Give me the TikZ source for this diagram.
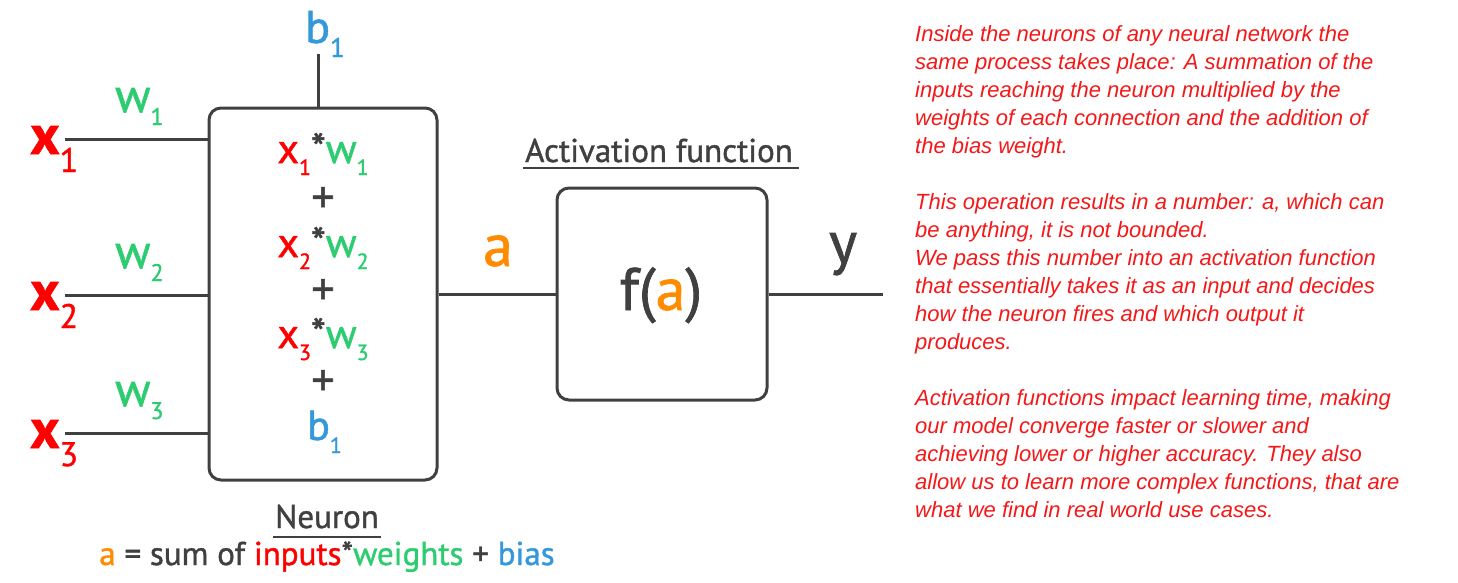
\documentclass[tikz,border=0pt]{standalone}
\usepackage{fontspec}
\setmainfont{PT Sans}[RawFeature={embolden=1.2}]
\newfontfamily\notefont{Liberation Sans}
\usetikzlibrary{positioning}
\definecolor{ink}{HTML}{404040}
\definecolor{xred}{HTML}{FF0000}
\definecolor{wgreen}{HTML}{2ECC71}
\definecolor{bblue}{HTML}{3498DB}
\definecolor{aorange}{HTML}{FF8C00}
\definecolor{notered}{HTML}{F41818}
\newcommand{\fs}[1]{\fontsize{#1}{#1}\selectfont}
\newcommand{\lowidx}[3]{\raisebox{-#1pt}{\mdseries\fs{#2}#3}}
\begin{document}
\begin{tikzpicture}[x=1pt,y=-1pt,
  every node/.style={text=ink},
  wire/.style={draw=ink,line width=3pt},
  unitbox/.style={draw=ink,line width=3pt,rounded corners=12pt},
  lbl/.style={inner sep=0pt,anchor=base west},
  term/.style={inner sep=0pt,anchor=base}]
  \useasboundingbox (0,0) rectangle (1458,582);
  % boxes
  \node[unitbox,minimum width=228pt,minimum height=372pt] (neuron) at (323,294) {};
  \node[unitbox,minimum width=210pt,minimum height=212pt] (act) at (662,294) {};
  % inputs and weights
  \foreach \i/\yy in {1/139,2/295,3/433} {
    \coordinate (in\i) at (65,\yy);
    \draw[wire] (in\i) -- (in\i -| neuron.west);
    \node[lbl] (xlab\i) at (30,\yy+15) {\fs{56}\bfseries\textcolor{xred}{x\lowidx{18}{34}{\i}}};
    \node[lbl] (wlab\i) at (115,\yy-27) {\fs{48}\textcolor{wgreen}{w\lowidx{13}{24}{\i}}};
  }
  % bias
  \coordinate (biasend) at (318,54);
  \draw[wire] (biasend) -- (biasend |- neuron.north);
  \node[lbl] (blab) at (305,43) {\fs{46}\textcolor{bblue}{b\lowidx{14}{27}{1}}};
  % sum inside neuron
  \node[term] (row1) at (323,163) {\fs{42}\textcolor{xred}{x\lowidx{12}{22}{1}}*\textcolor{wgreen}{w\lowidx{12}{22}{1}}};
  \node[inner sep=0pt] (plus1) at (323,200) {\fs{46}+};
  \node[term] (row2) at (323,257) {\fs{42}\textcolor{xred}{x\lowidx{12}{22}{2}}*\textcolor{wgreen}{w\lowidx{12}{22}{2}}};
  \node[inner sep=0pt] (plus2) at (323,292) {\fs{46}+};
  \node[term] (row3) at (323,348) {\fs{42}\textcolor{xred}{x\lowidx{12}{22}{3}}*\textcolor{wgreen}{w\lowidx{12}{22}{3}}};
  \node[inner sep=0pt] (plus3) at (323,383) {\fs{46}+};
  \node[lbl] (row4) at (307,440) {\fs{42}\textcolor{bblue}{b\lowidx{13}{22}{1}}};
  % neuron to activation to output
  \draw[wire] (neuron.east) -- (act.west);
  \coordinate (out) at (883,294);
  \draw[wire] (act.east) -- (out);
  \node[term] (alab) at (498,266) {\fs{60}\textcolor{aorange}{a}};
  \node[term] (ylab) at (843,263) {\fs{60}y};
  \node[term] (fa) at (661,310) {\fs{60}f(\textcolor{aorange}{a})};
  % titles
  \node[term] (acttitle) at (659,162) {\fs{33}Activation function};
  \draw[ink,line width=1.5pt] ([shift={(-2,6)}]acttitle.base west) -- ([shift={(6,6)}]acttitle.base east);
  \node[term] (neurontitle) at (327,528) {\fs{33}Neuron};
  \draw[ink,line width=1.5pt] ([shift={(-2,9)}]neurontitle.base west) -- ([shift={(2,9)}]neurontitle.base east);
  \node[term] (formula) at (327,565) {\fs{33}\textcolor{aorange}{a} = sum of \textcolor{xred}{inputs}*\textcolor{wgreen}{weights} + \textcolor{bblue}{bias}};
  % explanation
  \node[inner sep=0pt,anchor=north west,align=left,text=notered,
        font=\notefont\itshape\fontsize{22}{28}\selectfont] (notes) at (915,25) {%
    Inside the neurons of any neural network the\\
    same process takes place: A summation of the\\
    inputs reaching the neuron multiplied by the\\
    weights of each connection and the addition of\\
    the bias weight.\\[28pt]
    This operation results in a number: a, which can\\
    be anything, it is not bounded.\\
    We pass this number into an activation function\\
    that essentially takes it as an input and decides\\
    how the neuron fires and which output it\\
    produces.\\[28pt]
    Activation functions impact learning time, making\\
    our model converge faster or slower and\\
    achieving lower or higher accuracy. They also\\
    allow us to learn more complex functions, that are\\
    what we find in real world use cases.};
\end{tikzpicture}
\end{document}
